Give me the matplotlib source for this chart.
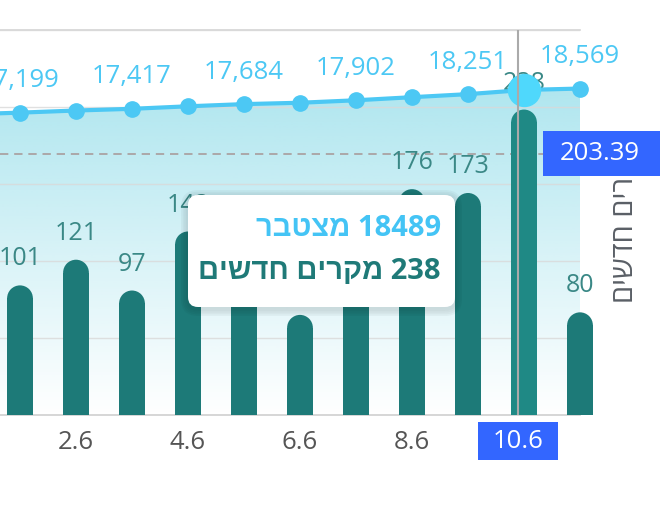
import numpy as np
import matplotlib.pyplot as plt
import matplotlib.colors as mcolors
from matplotlib.patches import Rectangle, Ellipse, FancyBboxPatch

plt.rcParams['font.family'] = ['Open Sans', 'Liberation Sans', 'DejaVu Sans']

# data
dates = ['31.5', '1.6', '2.6', '3.6', '4.6', '5.6', '6.6', '7.6', '8.6', '9.6', '10.6', '11.6']
cumulative = [17098, 17199, 17320, 17417, 17560, 17684, 17762, 17902, 18078, 18251, 18489, 18569]
new_cases = [np.nan, 101, 121, 97, 143, 124, 78, 140, 176, 173, 238, 80]
average = 203.39
hover = 10
ylabel = 'מקרים חדשים'
cum_word = 'מצטבר'

bar_color = '#1d7a78'
bar_hover = '#1f8985'
line_color = '#4cc8f4'
blue = '#3366ff'


def rtl(text):
    # matplotlib lays glyphs out left to right, so hebrew has to be flipped by hand
    return text[::-1]


x = np.arange(len(dates))

fig = plt.figure(figsize=(6.6, 5.27), dpi=100)
rect = [0, 112 / 527, 580 / 660, 385 / 527]
ax_fill = fig.add_axes(rect)
ax = ax_fill.twinx()
ax_line = ax_fill.twinx()

xlim = (1 - 20 / 56, 11)
line_max = 21900
for a in (ax_fill, ax, ax_line):
    a.set_xlim(*xlim)
ax_fill.set_ylim(0, line_max)
ax_line.set_ylim(0, line_max)
ax.set_ylim(0, 300)

# gradient area under the cumulative line
poly = ax_fill.fill_between(x, cumulative, 0, color='none', lw=0)
alpha = np.linspace(0.0, 0.45, 256)
rgba = np.zeros((256, 1, 4))
rgba[..., :3] = mcolors.to_rgb('#4fc8dc')
rgba[..., 3] = alpha[:, None]
img = ax_fill.imshow(rgba, extent=[x[0], x[-1], 0, max(cumulative)], origin='lower',
                     aspect='auto', zorder=1, interpolation='bilinear')
img.set_clip_path(poly.get_paths()[0], transform=ax_fill.transData)
ax_fill.set_xlim(*xlim)
ax_fill.set_ylim(0, line_max)

for s in ('left', 'right'):
    ax_fill.spines[s].set_visible(False)
ax_fill.spines['top'].set_color('#d4d4d4')
ax_fill.spines['bottom'].set_color('#cfcfcf')
ax_fill.spines['top'].set_linewidth(1.2)
ax_fill.spines['bottom'].set_linewidth(1.2)
ax_fill.set_yticks([])
ticks = [i for i in x if i % 2 == 0 and i != hover and i > 0]
ax_fill.set_xticks(ticks)
ax_fill.set_xticklabels([dates[i] for i in ticks])
ax_fill.tick_params(axis='x', length=0, pad=11, labelsize=18.5, labelcolor='#555555')

# bars axis
for a in (ax, ax_line):
    for s in a.spines.values():
        s.set_visible(False)
ax.set_yticks(np.arange(0, 301, 60))
ax.set_yticklabels([])
ax.tick_params(axis='y', length=0)
ax.grid(axis='y', color='#d9d9d9', lw=1, alpha=0.8)
ax.set_axisbelow(True)
ax.set_ylabel(rtl(ylabel), rotation=90, fontsize=21, color='#5a5f66')
ax.yaxis.set_label_coords(625 / 580, 0.5)
ax.yaxis.label.set_va('center')
ax.yaxis.label.set_ha('center')

ax.axhline(average, color='#a89c9c', lw=1.2, ls=(0, (5, 3.5)), zorder=1.5)

w = 0.46
p0, p1, p2 = ax.transData.transform([(0, 0), (w / 2, 0), (0, 1)])
ry = (p1[0] - p0[0]) / (p2[1] - p0[1])
for i, v in zip(x, new_cases):
    if np.isnan(v):
        continue
    c = bar_hover if i == hover else bar_color
    ax.add_patch(Rectangle((i - w / 2, 0), w, v - ry, color=c, lw=0, zorder=2, clip_on=False))
    ax.add_patch(Ellipse((i, v - ry), w, 2 * ry, color=c, lw=0, zorder=2, clip_on=False))
    ax.annotate(f'{int(v)}', (i, v), xytext=(0, 19), textcoords='offset points',
                ha='center', va='center', fontsize=18, color='#3a8886', zorder=3,
                annotation_clip=False)

# cumulative line
ax_line.set_yticks([])
ax_line.plot(x, cumulative, color=line_color, lw=3, marker='o', ms=11, zorder=3, clip_on=False)
ax_line.plot(x[hover], cumulative[hover], 'o', ms=23, color='#4fd8fc', zorder=4, clip_on=False)
for i in x:
    if i % 2 == 1:
        ax_line.annotate(f'{cumulative[i]:,}', (i, cumulative[i]), xytext=(0, 23),
                         textcoords='offset points', ha='center', va='center',
                         fontsize=18.5, color=line_color, annotation_clip=False)

# crosshair
cursor_x = x[hover] - 0.11
ax_line.axvline(cursor_x, color='#aaaaaa', lw=1.5, zorder=5)
xt = ax_line.get_xaxis_transform()
ax_line.add_patch(Rectangle((cursor_x - 0.715, -0.117), 1.43, 0.099, transform=xt,
                            color=blue, lw=0, clip_on=False, zorder=6))
ax_line.text(cursor_x, -0.069, dates[hover], transform=xt, ha='center', va='center',
             color='white', fontsize=18.5, zorder=7)

# average label on the right axis
yt = ax_line.get_yaxis_transform()
half_h = 22.5 / (p2[1] - p0[1]) * (line_max / 300)
avg_line = average * line_max / 300
ax_line.add_patch(Rectangle((543 / 580, avg_line - half_h), 0.3, 2 * half_h, transform=yt,
                            color=blue, lw=0, clip_on=False, zorder=6))
ax_line.text(600 / 580, avg_line, f'{average:.2f}', transform=yt, ha='center', va='center',
             color='white', fontsize=18.5, zorder=7)

# tooltip
tr = fig.dpi_scale_trans
for k, a in enumerate([0.035, 0.03, 0.025, 0.02]):
    e = 0.07 - k * 0.017
    ax_line.add_patch(FancyBboxPatch((1.88 - e, 2.20 - e - 0.02), 2.67 + 2 * e, 1.12 + 2 * e,
                                     boxstyle=f'round,pad=0,rounding_size={0.1 + e}',
                                     transform=tr, color='black', alpha=a, lw=0,
                                     clip_on=False, zorder=9))
ax_line.add_patch(FancyBboxPatch((1.88, 2.20), 2.67, 1.12, boxstyle='round,pad=0,rounding_size=0.1',
                                 transform=tr, facecolor='white', edgecolor='none',
                                 clip_on=False, zorder=10))
ax_line.text(4.41, 2.99, f'{rtl(cum_word)} {cumulative[hover]}', transform=tr, ha='right',
             va='center', fontsize=21, fontweight='bold', color='#44c4f5', zorder=11)
ax_line.text(4.41, 2.55, f'{rtl(ylabel)} {int(new_cases[hover])}', transform=tr, ha='right',
             va='center', fontsize=21, fontweight='bold', color='#1f7a78', zorder=11)

fig.savefig('out.png', dpi=100)
